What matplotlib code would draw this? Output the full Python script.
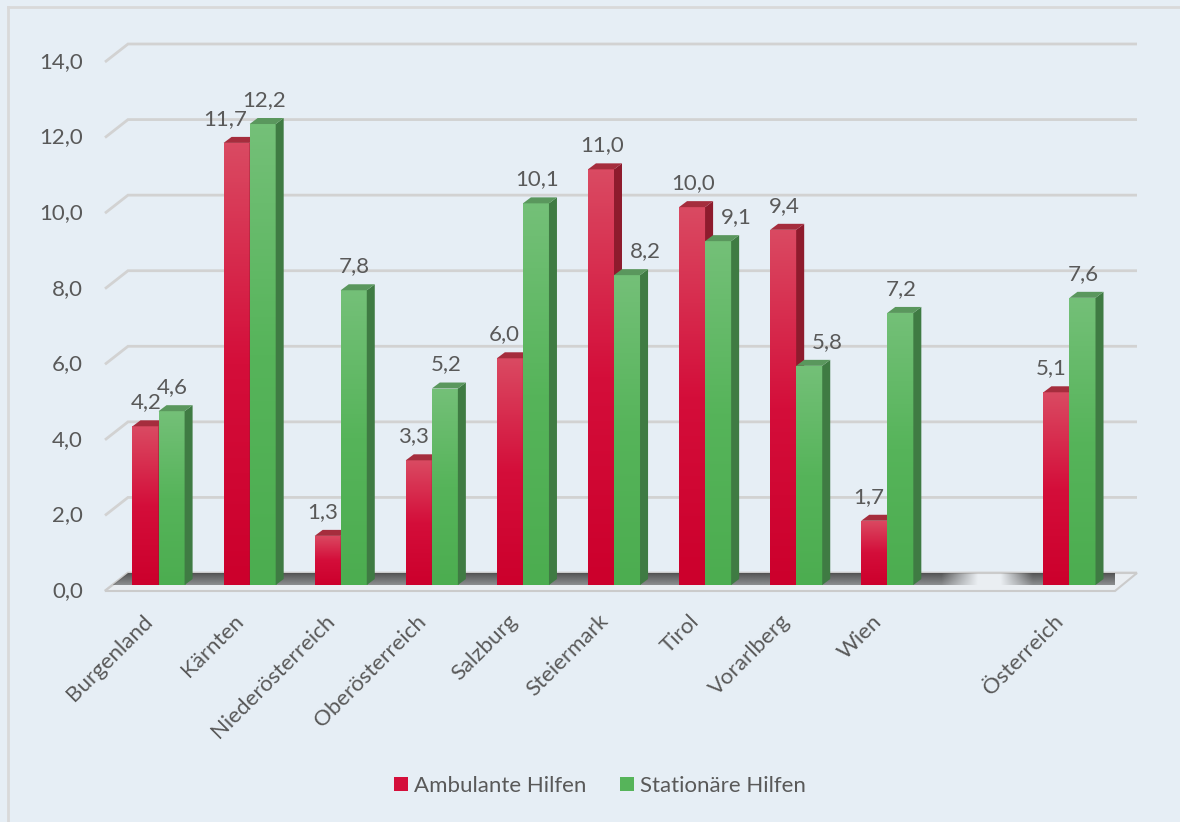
import numpy as np
import matplotlib
matplotlib.use("Agg")
import matplotlib.pyplot as plt
from matplotlib.patches import Polygon, Patch
from matplotlib.lines import Line2D
from matplotlib.colors import to_rgb, LinearSegmentedColormap

# ---------------- data ----------------
categories = ["Burgenland", "Kärnten", "Niederösterreich", "Oberösterreich",
              "Salzburg", "Steiermark", "Tirol", "Vorarlberg", "Wien", "",
              "Österreich"]
ambulante = [4.2, 11.7, 1.3, 3.3, 6.0, 11.0, 10.0, 9.4, 1.7, np.nan, 5.1]
stationaere = [4.6, 12.2, 7.8, 5.2, 10.1, 8.2, 9.1, 5.8, 7.2, np.nan, 7.6]
series_names = ["Ambulante Hilfen", "Stationäre Hilfen"]
y_ticks = [0, 2, 4, 6, 8, 10, 12, 14]

# ---------------- style ----------------
W, H, DPI = 1180, 822, 100
BG = "#e6eef5"
TXT = "#595959"
GRID = "#d2d2d2"
FONT = "Lato"
FS = 16

styles = [
    dict(bot="#cc002c", mid="#d40e3a", top="#da4a62", side="#8e1b2d", cap="#a52d3d"),
    dict(bot="#4cad50", mid="#56b45a", top="#74c078", side="#3f7b43", cap="#5a975d"),
]

fig = plt.figure(figsize=(W / DPI, H / DPI), dpi=DPI)
fig.patch.set_facecolor(BG)

ax_l, ax_r, ax_b, ax_t = 113, 1115, 585, 56
ax = fig.add_axes([ax_l / W, 1 - ax_b / H, (ax_r - ax_l) / W, (ax_b - ax_t) / H])
ax.set_facecolor("none")
for s in ax.spines.values():
    s.set_visible(False)
ax.set_xticks([])
ax.set_yticks([])

n = len(categories)
x = np.arange(n)
xlim = (-0.5, n - 0.5)
ylim = (0, y_ticks[-1])

ppx = (ax_r - ax_l) / (xlim[1] - xlim[0])
ppy = (ax_b - ax_t) / (ylim[1] - ylim[0])


def dx(px):
    return px / ppx


def dy(px):
    return px / ppy


# ---------------- grid (back wall) ----------------
for v in y_ticks:
    xs = [xlim[0] + dx(-8), xlim[0] + dx(15), xlim[1] + dx(22)]
    ys = [v + dy(-6), v + dy(12), v + dy(12)]
    ax.plot(xs, ys, color=GRID, lw=2.0, solid_joinstyle="miter",
            solid_capstyle="butt", clip_on=False, zorder=1)
    ax.text(xlim[0] + dx(-30), v + dy(-6), f"{v:.1f}".replace(".", ","),
            ha="right", va="center", color=TXT, fontsize=FS, family=FONT)

# ---------------- floor ----------------
fy0, fy1 = dy(-6), dy(12)
floor_verts = [(xlim[0] + dx(-8), fy0), (xlim[1] + dx(0), fy0),
               (xlim[1] + dx(22), fy1), (xlim[0] + dx(15), fy1)]
floor = Polygon(floor_verts, closed=True, facecolor="#eaeef2",
                edgecolor="#cbcbcb", lw=1.5, zorder=2, clip_on=False)
ax.add_patch(floor)

nx, ny = 800, 40
gx = np.linspace(xlim[0] + dx(-8), xlim[1] + dx(22), nx)
empty = 9
alpha_x = np.interp(gx, [xlim[0] - 1, empty - 0.4, empty, empty + 0.25, empty + 0.6, xlim[1] + 2],
                    [1, 1, 0, 0, 1, 1])
alpha_y = np.linspace(0.4, 0.92, ny)
rgba = np.zeros((ny, nx, 4))
rgba[..., :3] = to_rgb("#474747")
rgba[..., 3] = alpha_y[:, None] * alpha_x[None, :]
im = ax.imshow(rgba, extent=[gx[0], gx[-1], fy0, fy1], origin="lower",
               aspect="auto", zorder=2.5, interpolation="bilinear")
im.set_clip_path(floor)
im.set_clip_box(None)

# ---------------- bars ----------------
w = 0.286
ddx, ddy = dx(8), dy(6)
LBL_DY = 18  # px above bar top
annots = [[None] * n, [None] * n]
for si, (vals, st) in enumerate(zip([ambulante, stationaere], styles)):
    offs = (si - 0.5) * w
    z = 3 + si
    bars = ax.bar(x + offs, np.nan_to_num(vals), width=w, color=st["mid"],
                  edgecolor="none", zorder=z)
    cmap = LinearSegmentedColormap.from_list(
        f"g{si}", [(0, st["bot"]), (0.5, st["mid"]), (1, st["top"])])
    grad = np.linspace(0, 1, 128)[:, None]
    for i, (b, v) in enumerate(zip(bars, vals)):
        if np.isnan(v):
            b.set_visible(False)
            continue
        x0 = b.get_x()
        x1 = x0 + b.get_width()
        h = b.get_height()
        gim = ax.imshow(grad, cmap=cmap, extent=[x0, x1, 0, h], origin="lower",
                        aspect="auto", zorder=z + 0.01, interpolation="bilinear")
        gim.set_clip_path(b)
        side = Polygon([(x1, 0), (x1 + ddx, ddy), (x1 + ddx, h + ddy), (x1, h)],
                       closed=True, facecolor=st["side"], edgecolor="none",
                       zorder=z + 0.02)
        cap = Polygon([(x0, h), (x1, h), (x1 + ddx, h + ddy), (x0 + ddx, h + ddy)],
                      closed=True, facecolor=st["cap"], edgecolor="none",
                      zorder=z + 0.03)
        ax.add_patch(side)
        ax.add_patch(cap)
        annots[si][i] = ax.annotate(
            f"{v:.1f}".replace(".", ","), xy=((x0 + x1) / 2, h),
            xytext=(1, LBL_DY), textcoords="offset pixels",
            ha="center", va="baseline", color=TXT, fontsize=FS,
            family=FONT, zorder=10)

ax.set_xlim(xlim)
ax.set_ylim(ylim)

# ---------------- label collision avoidance (like the source chart) ----------------
renderer = fig.canvas.get_renderer()
bw = w * ppx
for i in range(n):
    a_r, a_g = annots[0][i], annots[1][i]
    if a_r is None or a_g is None:
        continue
    hr, hg = ambulante[i] * ppy, stationaere[i] * ppy
    if hr + LBL_DY < hg:
        wr = a_r.get_window_extent(renderer).width
        a_r.xyann = (1 + (bw / 2 - 3 - wr / 2) - 1, LBL_DY)
    if hg + LBL_DY < hr + 6:
        wg = a_g.get_window_extent(renderer).width
        a_g.xyann = (-bw / 2 + 16 + wg / 2, LBL_DY)

# ---------------- category labels ----------------
for i, c in enumerate(categories):
    if not c:
        continue
    ax.text(i + dx(-2), dy(-26), c, rotation=45, ha="right", va="top",
            color=TXT, fontsize=FS, family=FONT)

# ---------------- legend ----------------
handles = [Patch(facecolor=st["mid"], edgecolor="none") for st in styles]
fig.legend(handles, series_names, loc="center",
           bbox_to_anchor=(600 / W, 1 - 786 / H), ncol=2, frameon=False,
           prop={"family": FONT, "size": FS}, labelcolor=TXT,
           handlelength=0.62, handleheight=0.62, handletextpad=0.3,
           columnspacing=1.5)

# ---------------- chart border ----------------
fig.add_artist(Line2D([8 / W, 8 / W], [0, 1 - 7 / H], transform=fig.transFigure,
                      color="#d9d9d9", lw=2))
fig.add_artist(Line2D([8 / W, 1], [1 - 7 / H, 1 - 7 / H], transform=fig.transFigure,
                      color="#d9d9d9", lw=2))

fig.savefig("out.png", dpi=DPI, facecolor=fig.get_facecolor())
